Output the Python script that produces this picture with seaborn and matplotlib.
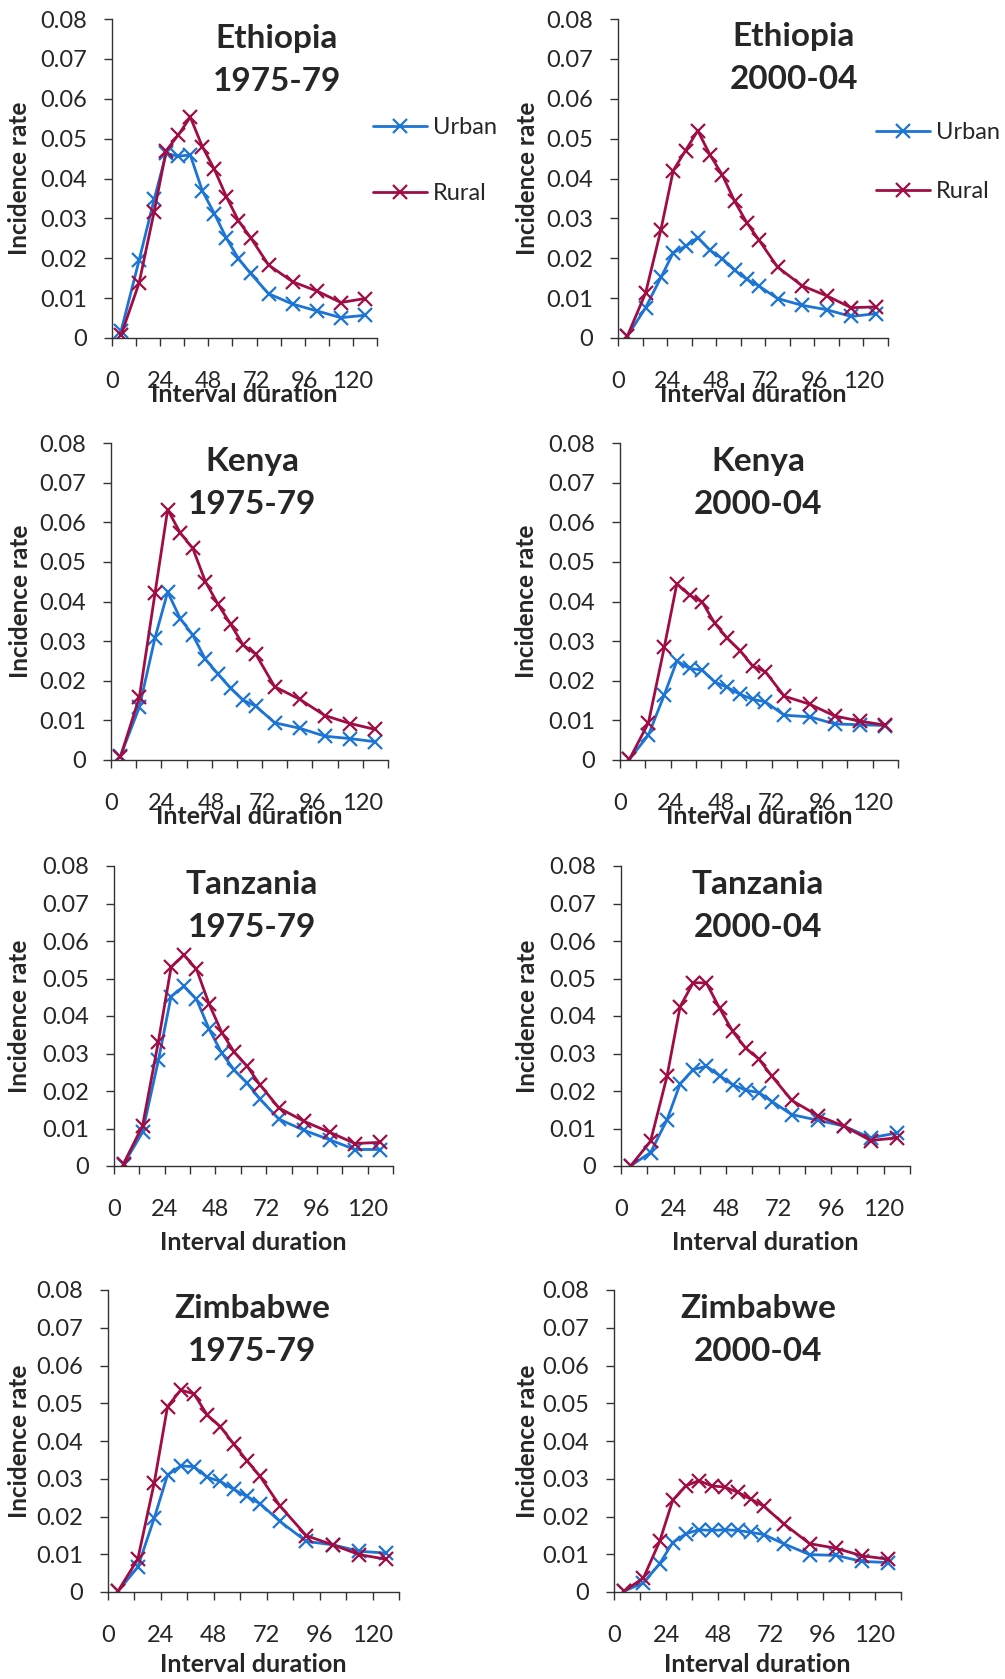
import numpy as np
import pandas as pd
import matplotlib
matplotlib.use("Agg")
import matplotlib.pyplot as plt
import seaborn as sns

# Midpoints of the birth-interval duration groups (months)
duration = [4.5, 13.5, 21, 27, 33, 39, 45, 51, 57, 63, 69, 78, 90, 102, 114, 126]

eth_7579_urban = [0.0017, 0.0195, 0.0348, 0.0463, 0.0456, 0.0459, 0.0369, 0.0312, 0.0250, 0.0199,
                  0.0162, 0.0111, 0.0085, 0.0068, 0.0051, 0.0057]
eth_7579_rural = [0.0007, 0.0138, 0.0317, 0.0470, 0.0509, 0.0554, 0.0480, 0.0423, 0.0354, 0.0294,
                  0.0252, 0.0183, 0.0141, 0.0118, 0.0089, 0.0099]
eth_0004_urban = [0.0004, 0.0076, 0.0152, 0.0214, 0.0230, 0.0252, 0.0220, 0.0199, 0.0170, 0.0147,
                  0.0130, 0.0099, 0.0082, 0.0071, 0.0054, 0.0061]
eth_0004_rural = [0.0004, 0.0113, 0.0272, 0.0420, 0.0470, 0.0520, 0.0459, 0.0409, 0.0343, 0.0289,
                  0.0245, 0.0178, 0.0131, 0.0106, 0.0076, 0.0078]
ken_7579_urban = [0.0010, 0.0133, 0.0309, 0.0424, 0.0357, 0.0315, 0.0254, 0.0217, 0.0181, 0.0151,
                  0.0136, 0.0094, 0.0080, 0.0060, 0.0054, 0.0046]
ken_7579_rural = [0.0008, 0.0158, 0.0422, 0.0632, 0.0573, 0.0534, 0.0450, 0.0393, 0.0343, 0.0290,
                  0.0267, 0.0185, 0.0153, 0.0112, 0.0092, 0.0077]
ken_0004_urban = [0.0002, 0.0063, 0.0164, 0.0250, 0.0231, 0.0227, 0.0197, 0.0183, 0.0166, 0.0153,
                  0.0147, 0.0113, 0.0109, 0.0091, 0.0089, 0.0087]
ken_0004_rural = [0.0002, 0.0094, 0.0284, 0.0445, 0.0416, 0.0399, 0.0345, 0.0307, 0.0276, 0.0237,
                  0.0223, 0.0161, 0.0141, 0.0111, 0.0098, 0.0088]
tza_7579_urban = [0.0004, 0.0090, 0.0282, 0.0452, 0.0479, 0.0445, 0.0365, 0.0301, 0.0255, 0.0221,
                  0.0179, 0.0125, 0.0095, 0.0070, 0.0044, 0.0044]
tza_7579_rural = [0.0006, 0.0107, 0.0332, 0.0530, 0.0563, 0.0525, 0.0432, 0.0356, 0.0303, 0.0266,
                  0.0217, 0.0155, 0.0119, 0.0090, 0.0060, 0.0063]
tza_0004_urban = [0.0001, 0.0036, 0.0123, 0.0219, 0.0257, 0.0266, 0.0241, 0.0217, 0.0202, 0.0196,
                  0.0172, 0.0137, 0.0122, 0.0106, 0.0075, 0.0088]
tza_0004_rural = [0.0001, 0.0066, 0.0239, 0.0425, 0.0489, 0.0488, 0.0421, 0.0359, 0.0314, 0.0285,
                  0.0239, 0.0175, 0.0134, 0.0106, 0.0068, 0.0075]
zwe_7579_urban = [0.0002, 0.0066, 0.0196, 0.0310, 0.0334, 0.0332, 0.0304, 0.0293, 0.0272, 0.0253,
                  0.0234, 0.0187, 0.0134, 0.0125, 0.0108, 0.0103]
zwe_7579_rural = [0.0002, 0.0087, 0.0290, 0.0491, 0.0535, 0.0525, 0.0469, 0.0438, 0.0392, 0.0348,
                  0.0306, 0.0228, 0.0149, 0.0125, 0.0099, 0.0087]
zwe_0004_urban = [0.0002, 0.0024, 0.0075, 0.0131, 0.0154, 0.0165, 0.0163, 0.0165, 0.0163, 0.0158,
                  0.0152, 0.0128, 0.0099, 0.0097, 0.0081, 0.0078]
zwe_0004_rural = [0.0002, 0.0037, 0.0134, 0.0243, 0.0281, 0.0295, 0.0281, 0.0278, 0.0264, 0.0246,
                  0.0227, 0.0181, 0.0128, 0.0116, 0.0096, 0.0087]

countries = ["Ethiopia", "Ethiopia", "Kenya", "Kenya", "Tanzania", "Tanzania", "Zimbabwe", "Zimbabwe"]
periods = ["1975-79", "2000-04"] * 4
series = [
    (eth_7579_urban, eth_7579_rural), (eth_0004_urban, eth_0004_rural),
    (ken_7579_urban, ken_7579_rural), (ken_0004_urban, ken_0004_rural),
    (tza_7579_urban, tza_7579_rural), (tza_0004_urban, tza_0004_rural),
    (zwe_7579_urban, zwe_7579_rural), (zwe_0004_urban, zwe_0004_rural),
]

y_ticks = [0, 0.01, 0.02, 0.03, 0.04, 0.05, 0.06, 0.07, 0.08]
y_tick_labels = ["0", "0.01", "0.02", "0.03", "0.04", "0.05", "0.06", "0.07", "0.08"]
x_ticks = [0, 24, 48, 72, 96, 120]
x_tick_labels = ["0", "24", "48", "72", "96", "120"]

sns.set_style("white")
plt.rcParams["font.family"] = ["Lato", "DejaVu Sans"]

W, H = 1005, 1679
fig = plt.figure(figsize=(W / 100, H / 100), dpi=100)

palette = {"Urban": "#1C74D4", "Rural": "#A00D44"}

# panel boxes in pixels: left, right, top, bottom
boxes = [
    (112, 377, 19, 338), (618, 888, 19, 338),
    (111, 388, 443, 760), (620, 898, 443, 760),
    (114, 393, 866, 1166), (621, 910, 866, 1166),
    (108, 399, 1290, 1592), (614, 901, 1290, 1592),
]
# title centres (x, y) in pixels
title_pos = [(277, 60), (794, 58), (252, 483), (758, 483),
             (252, 906), (758, 906), (252, 1330), (758, 1330)]
# distance of x-axis label centre below the axis, pixels
xlabel_off = [57, 57, 57, 57, 77, 77, 73, 73]
ylabel_x = [20, 527, 20, 527, 20, 527, 20, 527]


def paint_markers(lines):
    # x markers take the colour of their own line
    for ln in lines:
        ln.set_markeredgecolor(ln.get_color())
        ln.set_markerfacecolor(ln.get_color())


for i, (box, (urban, rural)) in enumerate(zip(boxes, series)):
    l, r, t, b = box
    ax = fig.add_axes([l / W, 1 - b / H, (r - l) / W, (b - t) / H])
    df = pd.DataFrame({
        "duration": duration * 2,
        "rate": list(urban) + list(rural),
        "area": ["Urban"] * len(duration) + ["Rural"] * len(duration),
    })
    sns.lineplot(data=df, x="duration", y="rate", hue="area", style="area",
                 markers={"Urban": "x", "Rural": "x"}, dashes=False,
                 palette=palette, linewidth=2.0, markersize=9.5,
                 markeredgewidth=1.6, ax=ax, legend=(i < 2))
    paint_markers(ax.lines)

    ax.set_xlim(0, 132)
    ax.set_ylim(0, 0.08)
    ax.set_yticks(y_ticks)
    ax.set_yticklabels(y_tick_labels)
    ax.set_xticks(x_ticks)
    ax.set_xticklabels(x_tick_labels)
    ax.set_xticks(np.arange(12, 133, 24), minor=True)
    for side in ("top", "right"):
        ax.spines[side].set_visible(False)
    for side in ("left", "bottom"):
        ax.spines[side].set_color("#333333")
        ax.spines[side].set_linewidth(1.0)
    ax.tick_params(axis="y", which="major", direction="out", length=6, width=1.0,
                   color="#333333", labelsize=17, pad=12, left=True)
    ax.tick_params(axis="x", which="both", direction="out", length=6, width=1.0,
                   color="#333333", labelsize=17, pad=18, bottom=True)

    ax.set_xlabel("Interval duration", fontsize=18, fontweight="bold")
    ax.xaxis.label.set_va("center")
    ax.xaxis.set_label_coords(0.5, -xlabel_off[i] / (b - t))
    ax.set_ylabel("Incidence rate", fontsize=17.5, fontweight="bold")
    ax.yaxis.label.set_va("center")
    ax.yaxis.set_label_coords(-(l - ylabel_x[i]) / (r - l), 0.5)

    tx, ty = title_pos[i]
    fig.text(tx / W, 1 - ty / H, f"{countries[i]}\n{periods[i]}", ha="center", va="center",
             fontsize=24, fontweight="bold", linespacing=1.6)

    if i < 2:
        lx, ly = (373, 117) if i == 0 else (876, 122)
        leg = ax.legend(loc="upper left", bbox_to_anchor=(lx / W, 1 - ly / H),
                        bbox_transform=fig.transFigure, frameon=False,
                        fontsize=17, handlelength=2.3, handletextpad=0.25,
                        labelspacing=1.9 if i == 0 else 1.6, borderpad=0, borderaxespad=0)
        leg.set_title(None)
        paint_markers(leg.get_lines())

fig.savefig("out.png", dpi=100)
